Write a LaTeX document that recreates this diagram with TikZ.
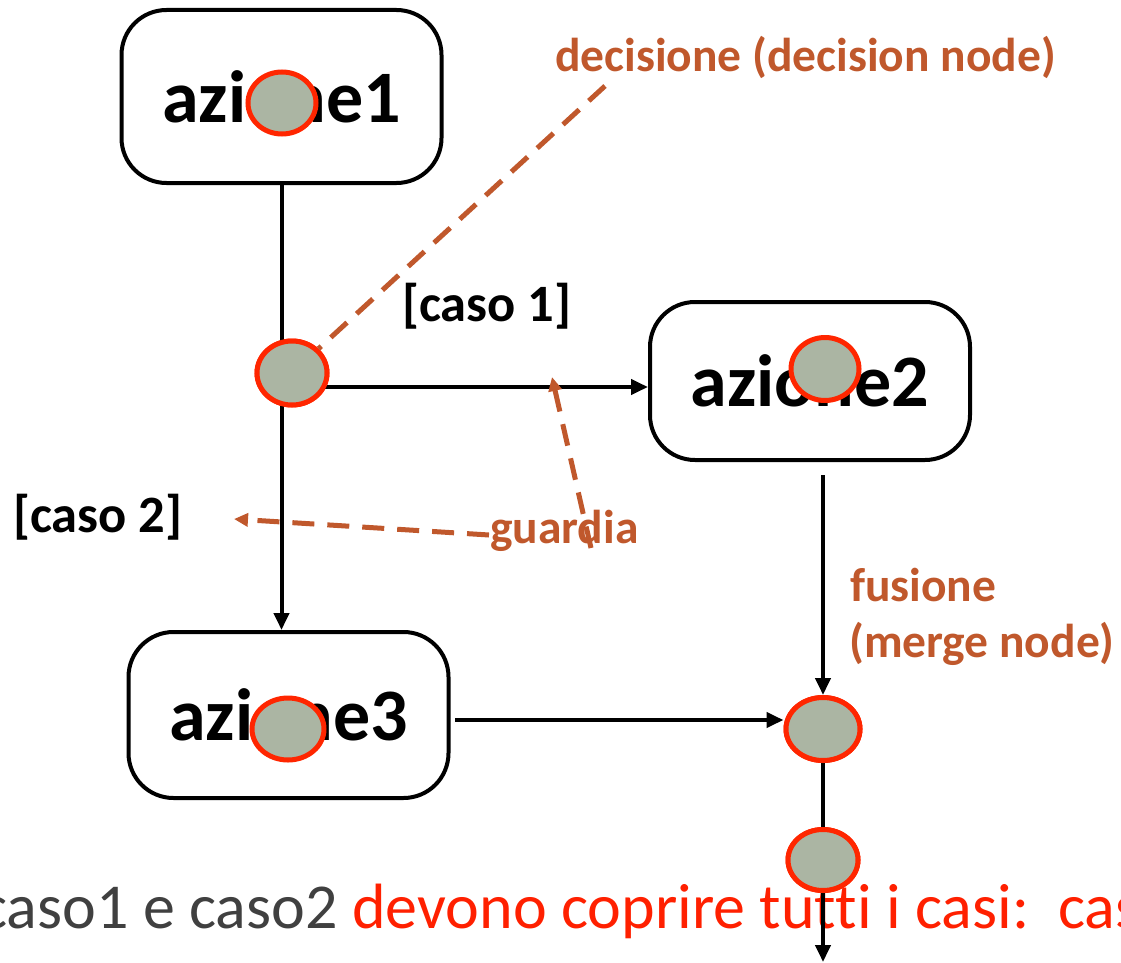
\documentclass[tikz,border=0pt]{standalone}
\usepackage{fontspec}
\setmainfont{Carlito}[Ligatures=NoCommon]
\usetikzlibrary{arrows.meta,shapes.geometric,calc}
\definecolor{nodered}{RGB}{255,38,0}
\definecolor{nodegray}{RGB}{171,181,163}
\definecolor{annot}{RGB}{192,88,44}
\definecolor{txtgray}{RGB}{64,64,64}
\definecolor{txtred}{RGB}{255,32,0}
\tikzset{
  actbox/.style={draw=black, line width=4pt, rounded corners=45pt, fill=white,
    minimum width=320pt, inner sep=0pt,
    font=\fontsize{74}{80}\selectfont\bfseries},
  dot/.style={ellipse, draw=nodered, fill=nodegray, line width=5pt, inner sep=0pt},
  flow/.style={line width=4pt, -{Triangle[length=17pt,width=15pt]}},
  plain/.style={line width=4pt},
  annline/.style={draw=annot, line width=5pt, dash pattern=on 22pt off 13pt},
  annarrow/.style={annline, -{Triangle[length=14pt,width=13pt]}},
  annlab/.style={text=annot, font=\fontsize{47.5}{42}\selectfont\bfseries, inner sep=0pt},
  guardlab/.style={text=black, font=\fontsize{52.5}{56}\selectfont\bfseries, inner sep=0pt}
}
\begin{document}
\begin{tikzpicture}[x=1pt,y=-1pt]
\clip (0,0) rectangle (1121,963);
% bottom text
\node[anchor=base west, inner sep=0pt, font=\fontsize{64}{70}\selectfont] (note) at (-20,928)
  {\textcolor{txtgray}{caso1 e caso2} \textcolor{txtred}{devono coprire tutti i casi:\ \ cas}};
% activity boxes
\node[actbox, minimum height=173pt] (a1) at (281.5,96.5) {azione1};
\node[actbox, minimum height=158pt] (a2) at (810,381) {azione2};
\node[actbox, minimum height=166pt] (a3) at (288.5,715) {azione3};
% control nodes
\node[dot, minimum width=70pt, minimum height=64pt] (d) at (292,373) {};
\node[dot, minimum width=74pt, minimum height=63pt] (m) at (823,729) {};
\node[dot, minimum width=70pt, minimum height=61pt] (b) at (823,860) {};
% coordinates
\coordinate (bot) at (823,962);
\coordinate (dout) at (300,387);
\coordinate (a2in) at (a2.west |- dout);
\coordinate (a2out) at (823,475);
\coordinate (a3out) at (455,720);
\coordinate (min) at (m.west |- a3out);
% control flow
\draw[flow] (a1.south) -- (a1.south |- a3.north);
\draw[flow] (dout) -- (a2in);
\draw[flow] (a2out) -- (m.north);
\draw[flow] (a3out) -- (min);
\draw[plain] (m.center) -- (b.center);
\draw[flow] (b.center) -- (bot);
% dots over lines
\node[dot, minimum width=70pt, minimum height=64pt] at (d) {};
\node[dot, minimum width=74pt, minimum height=63pt] at (m) {};
\node[dot, minimum width=70pt, minimum height=61pt] at (b) {};
\node[dot, minimum width=68pt, minimum height=62pt] (e1) at (282,103) {};
\node[dot, minimum width=68pt, minimum height=63pt] (e2) at (825,369) {};
\node[dot, minimum width=72pt, minimum height=62pt] (e3) at (288,729) {};
% guard labels
\node[guardlab, anchor=base west] (c1) at (402,321) {[caso 1]};
\node[guardlab, anchor=base west] (c2) at (13,532) {[caso 2]};
% annotations
\node[annlab, anchor=base west] (ldec) at (555,72) {decisione (decision node)};
\node[annlab, anchor=base west] (lgua) at (490,543) {guardia};
\node[annlab, anchor=base west] (lfus) at (850,601) {fusione};
\node[annlab, anchor=base west] (lmer) at (849,657) {(merge node)};
\coordinate (decstart) at (605,86);
\coordinate (gstart1) at (591,548);
\coordinate (gtip1) at (552,377);
\coordinate (gstart2) at (489,535);
\coordinate (gtip2) at (234,519);
\draw[annline] (decstart) -- (d);
\draw[annarrow] (gstart1) -- (gtip1);
\draw[annarrow] (gstart2) -- (gtip2);
\end{tikzpicture}
\end{document}
